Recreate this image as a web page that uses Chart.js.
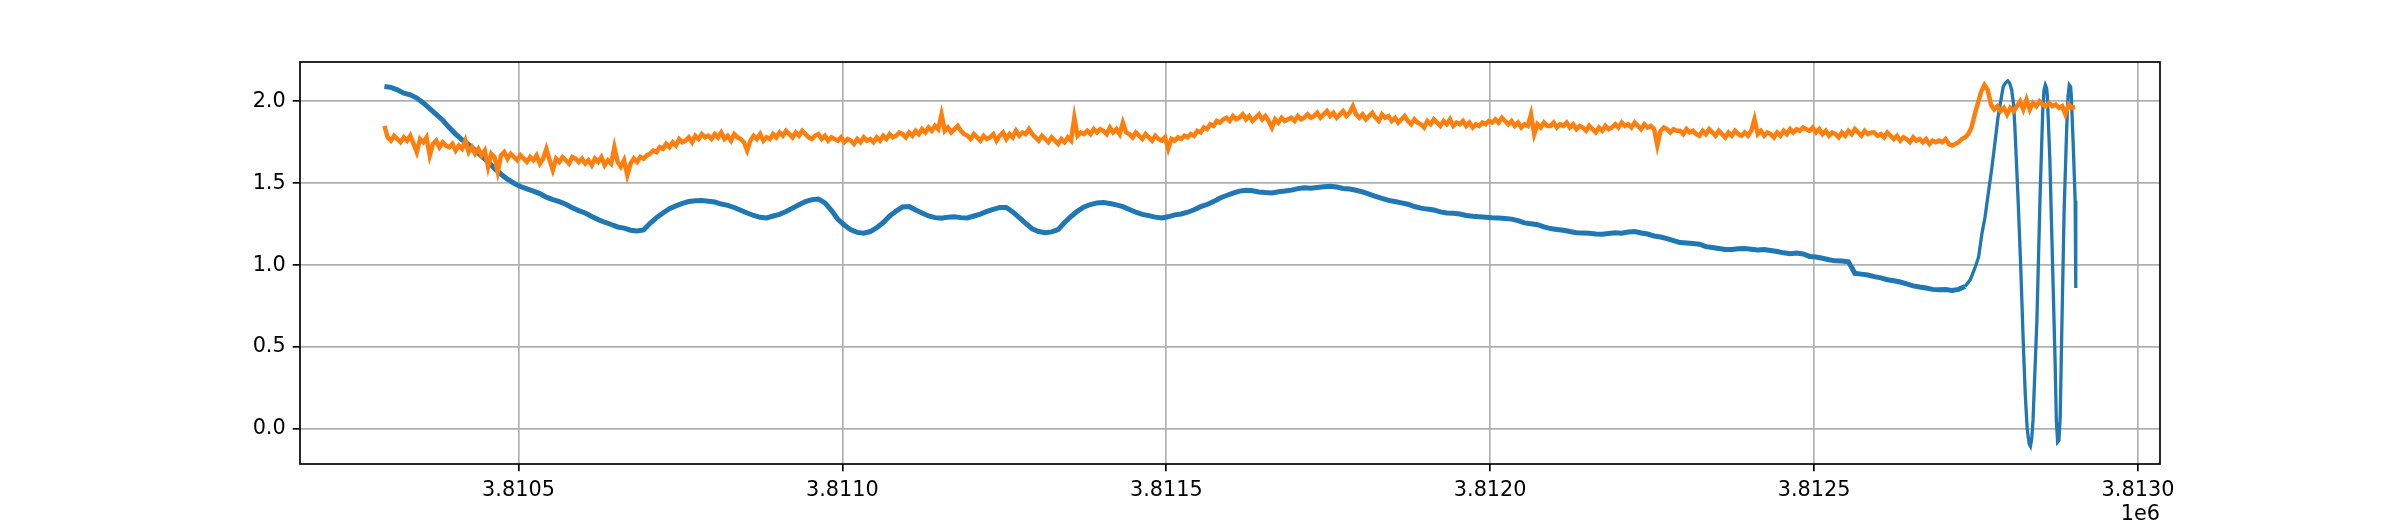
<!DOCTYPE html>
<html>
<head>
<meta charset="utf-8">
<script src="https://cdn.jsdelivr.net/npm/chart.js@4.4.1/dist/chart.umd.min.js"></script>
<style>
  html, body { margin: 0; padding: 0; background: #fff; }
  canvas { display: block; }
</style>
</head>
<body>
<canvas id="c" width="2400" height="525"></canvas>
<script>
// ticks
const xTickVals = [3810500, 3811000, 3811500, 3812000, 3812500, 3813000];
const xTickLabels = ['3.8105', '3.8110', '3.8115', '3.8120', '3.8125', '3.8130'];
const yTickVals = [0, 0.5, 1.0, 1.5, 2.0];
const yTickLabels = ['0.0', '0.5', '1.0', '1.5', '2.0'];
const offsetLabel = '1e6';

// blue series: evenly sampled noisy part, then the oscillating tail
const blueStart = 3810293;
const blueStep = 10;
const blueMain = [
  2.09, 2.085, 2.07, 2.05, 2.04, 2.02, 1.99, 1.955, 1.92, 1.885,
  1.84, 1.80, 1.765, 1.735, 1.70, 1.665, 1.63, 1.59, 1.555, 1.525,
  1.50, 1.48, 1.465, 1.452, 1.437, 1.415, 1.40, 1.388, 1.372, 1.35,
  1.333, 1.318, 1.297, 1.278, 1.262, 1.248, 1.233, 1.226, 1.213, 1.208,
  1.215, 1.255, 1.29, 1.318, 1.345, 1.362, 1.377, 1.388, 1.393, 1.395,
  1.39, 1.385, 1.373, 1.365, 1.352, 1.335, 1.318, 1.303, 1.292, 1.288,
  1.30, 1.31, 1.327, 1.348, 1.368, 1.388, 1.40, 1.403, 1.38, 1.335,
  1.28, 1.245, 1.215, 1.20, 1.195, 1.205, 1.228, 1.26, 1.30, 1.33,
  1.355, 1.358, 1.337, 1.318, 1.30, 1.29, 1.287, 1.293, 1.295, 1.29,
  1.288, 1.30, 1.312, 1.328, 1.34, 1.352, 1.352, 1.325, 1.29, 1.255,
  1.222, 1.205, 1.198, 1.203, 1.217, 1.26, 1.297, 1.33, 1.355, 1.37,
  1.38, 1.382, 1.376, 1.368, 1.357, 1.34, 1.323, 1.31, 1.302, 1.293,
  1.288, 1.295, 1.307, 1.312, 1.323, 1.338, 1.357, 1.37, 1.388, 1.41,
  1.425, 1.44, 1.452, 1.457, 1.454, 1.447, 1.443, 1.44, 1.448, 1.452,
  1.458, 1.467, 1.472, 1.47, 1.474, 1.478, 1.481, 1.477, 1.468, 1.465,
  1.457, 1.447, 1.433, 1.42, 1.407, 1.395, 1.388, 1.38, 1.372, 1.358,
  1.348, 1.342, 1.337, 1.325, 1.318, 1.316, 1.312, 1.303, 1.298, 1.295,
  1.292, 1.289, 1.288, 1.285, 1.281, 1.272, 1.258, 1.253, 1.247, 1.233,
  1.223, 1.218, 1.213, 1.205, 1.198, 1.196, 1.194, 1.19, 1.188, 1.193,
  1.197, 1.195, 1.202, 1.205, 1.196, 1.19, 1.178, 1.172, 1.162, 1.15,
  1.138, 1.135, 1.132, 1.128, 1.113, 1.108, 1.102, 1.095, 1.096, 1.10,
  1.101, 1.097, 1.093, 1.095, 1.089, 1.083, 1.075, 1.07, 1.074, 1.068,
  1.053, 1.05, 1.042, 1.033, 1.026, 1.025, 1.02, 0.95, 0.945, 0.94,
  0.93, 0.922, 0.911, 0.905, 0.897, 0.885, 0.873, 0.866, 0.86, 0.852,
  0.849, 0.851, 0.846, 0.852, 0.87
];
const blueTailX = [
  3812741, 3812748, 3812754, 3812759, 3812764, 3812769, 3812774, 3812779,
  3812784, 3812790, 3812792, 3812796, 3812799, 3812802, 3812805, 3812808,
  3812810, 3812815, 3812819, 3812823, 3812826, 3812829, 3812832, 3812834,
  3812836, 3812838, 3812844, 3812849, 3812853, 3812855, 3812857, 3812859,
  3812860, 3812864, 3812868, 3812872, 3812874, 3812876, 3812878, 3812880,
  3812882, 3812886, 3812890, 3812892, 3812894, 3812896, 3812897, 3812900,
  3812903, 3812904
];
const blueTailY = [
  0.91, 0.98, 1.05, 1.19, 1.295, 1.44, 1.58, 1.74,
  1.905, 2.045, 2.09, 2.115, 2.125, 2.11, 2.07, 1.98,
  1.84, 1.395, 0.99, 0.52, 0.21, 0.0, -0.09, -0.105,
  -0.06, 0.055, 0.665, 1.44, 1.945, 2.07, 2.10, 2.08,
  2.04, 1.64, 1.03, 0.42, 0.05, -0.08, -0.07, 0.08,
  0.52, 1.335, 1.84, 2.03, 2.10, 2.09, 2.04, 1.74,
  1.395, 0.86
];

// orange series, evenly sampled
const orangeStart = 3810293;
const orangeStep = 5;
const orangeVals = [
  1.85, 1.78, 1.76, 1.79, 1.77, 1.75, 1.78, 1.76, 1.79, 1.74, 1.69, 1.77, 1.75, 1.78, 1.67, 1.74, 1.76, 1.72, 1.75, 1.73,
  1.72, 1.74, 1.70, 1.73, 1.71, 1.76, 1.69, 1.72, 1.68, 1.71, 1.67, 1.70, 1.60, 1.68, 1.66, 1.57, 1.67, 1.69, 1.65, 1.68,
  1.66, 1.64, 1.67, 1.65, 1.63, 1.66, 1.64, 1.67, 1.62, 1.65, 1.71, 1.64, 1.58, 1.65, 1.63, 1.66, 1.64, 1.62, 1.66, 1.65,
  1.63, 1.65, 1.62, 1.64, 1.61, 1.65, 1.63, 1.66, 1.61, 1.64, 1.62, 1.72, 1.63, 1.60, 1.64, 1.55, 1.62, 1.65, 1.63, 1.66,
  1.65, 1.67, 1.68, 1.70, 1.69, 1.72, 1.71, 1.74, 1.72, 1.75, 1.73, 1.77, 1.75, 1.76, 1.78, 1.75, 1.79, 1.77, 1.80, 1.78,
  1.79, 1.77, 1.80, 1.78, 1.81, 1.77, 1.79, 1.76, 1.80, 1.78, 1.77, 1.75, 1.70, 1.76, 1.79, 1.77, 1.80, 1.76, 1.78, 1.77,
  1.80, 1.78, 1.81, 1.79, 1.82, 1.80, 1.78, 1.81, 1.79, 1.82, 1.80, 1.78, 1.77, 1.79, 1.80, 1.77, 1.79, 1.76, 1.78, 1.77,
  1.76, 1.78, 1.75, 1.77, 1.76, 1.74, 1.77, 1.75, 1.78, 1.76, 1.77, 1.75, 1.78, 1.76, 1.79, 1.77, 1.80, 1.78, 1.79, 1.81,
  1.80, 1.78, 1.81, 1.79, 1.82, 1.80, 1.83, 1.81, 1.84, 1.82, 1.85, 1.83, 1.92, 1.82, 1.84, 1.81, 1.83, 1.85, 1.82, 1.80,
  1.79, 1.77, 1.80, 1.78, 1.76, 1.79, 1.77, 1.78, 1.80, 1.76, 1.79, 1.81, 1.77, 1.80, 1.78, 1.82, 1.79, 1.81, 1.80, 1.83,
  1.80, 1.78, 1.76, 1.79, 1.77, 1.75, 1.78, 1.76, 1.74, 1.77, 1.75, 1.78, 1.76, 1.90, 1.79, 1.81, 1.80, 1.82, 1.80, 1.83,
  1.81, 1.83, 1.82, 1.80, 1.84, 1.81, 1.83, 1.80, 1.87, 1.81, 1.80, 1.78, 1.81, 1.79, 1.77, 1.80, 1.78, 1.76, 1.79, 1.77,
  1.76, 1.78, 1.71, 1.77, 1.76, 1.78, 1.77, 1.79, 1.78, 1.80, 1.79, 1.82, 1.81, 1.84, 1.83, 1.86, 1.85, 1.88, 1.87, 1.89,
  1.90, 1.88, 1.91, 1.89, 1.90, 1.92, 1.89, 1.91, 1.88, 1.90, 1.92, 1.89, 1.91, 1.88, 1.84, 1.89, 1.87, 1.90, 1.88, 1.89,
  1.90, 1.88, 1.91, 1.89, 1.90, 1.92, 1.90, 1.91, 1.93, 1.90, 1.92, 1.94, 1.91, 1.93, 1.90, 1.92, 1.94, 1.91, 1.93, 1.97,
  1.92, 1.90, 1.92, 1.89, 1.91, 1.93, 1.90, 1.88, 1.92, 1.90, 1.91, 1.88, 1.90, 1.87, 1.89, 1.91, 1.88, 1.86, 1.89, 1.87,
  1.86, 1.84, 1.88, 1.86, 1.89, 1.87, 1.85, 1.88, 1.86, 1.89, 1.85, 1.87, 1.86, 1.88, 1.85, 1.87, 1.84, 1.86, 1.85, 1.87,
  1.86, 1.88, 1.87, 1.89, 1.87, 1.90, 1.88, 1.86, 1.88, 1.85, 1.87, 1.84, 1.86, 1.85, 1.92, 1.80, 1.86, 1.84, 1.87, 1.85,
  1.85, 1.87, 1.84, 1.86, 1.85, 1.87, 1.84, 1.86, 1.83, 1.85, 1.84, 1.82, 1.85, 1.83, 1.81, 1.84, 1.82, 1.85, 1.83, 1.84,
  1.86, 1.84, 1.87, 1.85, 1.86, 1.84, 1.87, 1.85, 1.83, 1.86, 1.84, 1.85, 1.83, 1.73, 1.82, 1.84, 1.83, 1.81, 1.83, 1.82,
  1.82, 1.80, 1.83, 1.81, 1.82, 1.80, 1.79, 1.82, 1.80, 1.83, 1.81, 1.79, 1.82, 1.80, 1.78, 1.81, 1.79, 1.82, 1.80, 1.79,
  1.81, 1.79, 1.82, 1.89, 1.80, 1.82, 1.79, 1.81, 1.80, 1.78, 1.81, 1.79, 1.82, 1.80, 1.83, 1.81, 1.83, 1.82, 1.84, 1.83,
  1.82, 1.84, 1.81, 1.83, 1.80, 1.82, 1.79, 1.81, 1.80, 1.78, 1.81, 1.79, 1.82, 1.80, 1.83, 1.81, 1.79, 1.82, 1.80, 1.81,
  1.81, 1.79, 1.80, 1.78, 1.81, 1.79, 1.77, 1.79, 1.76, 1.78, 1.77, 1.75, 1.78, 1.76, 1.77, 1.75, 1.77, 1.74, 1.76, 1.75,
  1.76, 1.75, 1.77, 1.74, 1.73, 1.74, 1.75, 1.77, 1.78, 1.80, 1.84, 1.92, 1.99, 2.06, 2.10, 2.07, 1.98, 1.95, 1.97, 1.94,
  1.96, 1.92, 1.96, 1.94, 1.97, 2.00, 1.95, 2.01, 1.95, 1.99, 1.97, 2.00, 1.98, 1.97, 1.99, 1.97, 1.98, 1.96, 1.97, 1.92,
  1.98, 1.96, 1.965
];

const blueMainData = blueMain.map((v, i) => ({ x: blueStart + i * blueStep, y: v }));
const blueTailData = [blueMainData[blueMainData.length - 1]]
  .concat(blueTailX.map((x, i) => ({ x: x, y: blueTailY[i] })));
const orangeData = orangeVals.map((v, i) => ({ x: orangeStart + i * orangeStep, y: v }));

const FONT = { family: 'DejaVu Sans', size: 20.8 };

const frame = {
  id: 'frame',
  afterDatasetsDraw(chart) {
    const a = chart.chartArea, ctx = chart.ctx;
    ctx.save();
    ctx.strokeStyle = '#000';
    ctx.lineWidth = 1.67;
    ctx.strokeRect(a.left, a.top, a.right - a.left, a.bottom - a.top);
    ctx.restore();
  },
  afterDraw(chart) {
    const a = chart.chartArea, ctx = chart.ctx;
    ctx.save();
    ctx.fillStyle = '#000';
    ctx.font = '20.8px "DejaVu Sans"';
    ctx.textAlign = 'right';
    ctx.textBaseline = 'alphabetic';
    ctx.fillText(offsetLabel, a.right, 520);
    ctx.restore();
  }
};

new Chart(document.getElementById('c').getContext('2d'), {
  type: 'line',
  data: {
    datasets: [
      { data: orangeData, borderColor: '#ff7f0e', borderWidth: 4.5, pointRadius: 0, tension: 0, fill: false },
      { data: blueMainData, borderColor: '#1f77b4', borderWidth: 5, pointRadius: 0, tension: 0, fill: false },
      { data: blueTailData, borderColor: '#1f77b4', borderWidth: 3.3, pointRadius: 0, tension: 0, fill: false }
    ]
  },
  options: {
    responsive: false,
    animation: false,
    devicePixelRatio: 1,
    layout: { padding: { left: 0, top: 62, right: 240, bottom: 0 } },
    plugins: { legend: { display: false }, tooltip: { enabled: false } },
    scales: {
      x: {
        type: 'linear',
        min: 3810162.7,
        max: 3813034,
        afterBuildTicks: s => { s.ticks = xTickVals.map(v => ({ value: v })); },
        afterFit: s => { s.height = 61; },
        ticks: {
          callback: v => xTickLabels[xTickVals.indexOf(v)],
          color: '#000', font: FONT, padding: 7, maxRotation: 0, autoSkip: false
        },
        grid: { color: '#b0b0b0', lineWidth: 1.67, tickColor: '#000', tickLength: 7.3, tickWidth: 1.67 },
        border: { display: false }
      },
      y: {
        type: 'linear',
        min: -0.214,
        max: 2.240,
        afterBuildTicks: s => { s.ticks = yTickVals.map(v => ({ value: v })); },
        afterFit: s => { s.width = 300; },
        ticks: {
          callback: v => yTickLabels[yTickVals.indexOf(v)],
          color: '#000', font: FONT, padding: 7, autoSkip: false
        },
        grid: { color: '#b0b0b0', lineWidth: 1.67, tickColor: '#000', tickLength: 7.3, tickWidth: 1.67 },
        border: { display: false }
      }
    }
  },
  plugins: [frame]
});
</script>
</body>
</html>
